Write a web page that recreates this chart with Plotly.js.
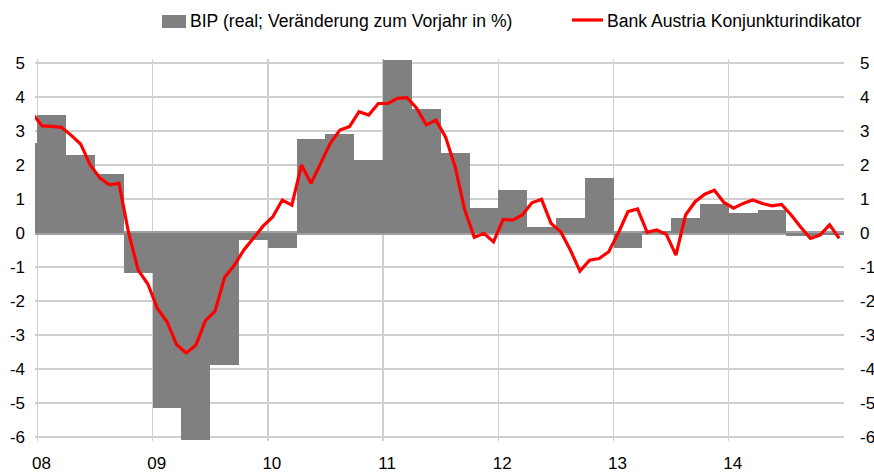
<!DOCTYPE html>
<html>
<head>
<meta charset="utf-8">
<script src="https://cdn.plot.ly/plotly-3.0.1.min.js"></script>
<style>html,body{margin:0;padding:0;background:#fff;}#chart{width:874px;height:475px;}</style>
</head>
<body>
<div id="chart"></div>
<script>
// Quarterly GDP (real, % change yoy), Q4 2007 .. Q4 2014
var bipQuarters = ['Q4 07',
  'Q1 08','Q2 08','Q3 08','Q4 08',
  'Q1 09','Q2 09','Q3 09','Q4 09',
  'Q1 10','Q2 10','Q3 10','Q4 10',
  'Q1 11','Q2 11','Q3 11','Q4 11',
  'Q1 12','Q2 12','Q3 12','Q4 12',
  'Q1 13','Q2 13','Q3 13','Q4 13',
  'Q1 14','Q2 14','Q3 14','Q4 14'];
var bipValues = [2.65,
  3.47, 2.29, 1.74, -1.17,
  -5.14, -6.08, -3.87, -0.20,
  -0.45, 2.76, 2.91, 2.15,
  5.09, 3.65, 2.34, 0.73,
  1.26, 0.17, 0.43, 1.63,
  -0.45, 0.05, 0.43, 0.85,
  0.58, 0.68, -0.10, -0.05];

// Monthly Bank Austria Konjunkturindikator, Dec 2007 .. Dec 2014
var indMonths = ['Dez 07',
  'Jan 08','Feb 08','Mär 08','Apr 08','Mai 08','Jun 08','Jul 08','Aug 08','Sep 08','Okt 08','Nov 08','Dez 08',
  'Jan 09','Feb 09','Mär 09','Apr 09','Mai 09','Jun 09','Jul 09','Aug 09','Sep 09','Okt 09','Nov 09','Dez 09',
  'Jan 10','Feb 10','Mär 10','Apr 10','Mai 10','Jun 10','Jul 10','Aug 10','Sep 10','Okt 10','Nov 10','Dez 10',
  'Jan 11','Feb 11','Mär 11','Apr 11','Mai 11','Jun 11','Jul 11','Aug 11','Sep 11','Okt 11','Nov 11','Dez 11',
  'Jan 12','Feb 12','Mär 12','Apr 12','Mai 12','Jun 12','Jul 12','Aug 12','Sep 12','Okt 12','Nov 12','Dez 12',
  'Jan 13','Feb 13','Mär 13','Apr 13','Mai 13','Jun 13','Jul 13','Aug 13','Sep 13','Okt 13','Nov 13','Dez 13',
  'Jan 14','Feb 14','Mär 14','Apr 14','Mai 14','Jun 14','Jul 14','Aug 14','Sep 14','Okt 14','Nov 14','Dez 14'];
var indValues = [3.50,
  3.15, 3.14, 3.11, 2.88, 2.62, 2.00, 1.62, 1.42, 1.46, 0.00, -1.09, -1.50,
  -2.22, -2.61, -3.29, -3.53, -3.30, -2.58, -2.30, -1.30, -0.95, -0.50, -0.16, 0.20,
  0.47, 0.97, 0.82, 2.00, 1.46, 2.05, 2.64, 3.03, 3.13, 3.57, 3.47, 3.81,
  3.81, 3.96, 3.98, 3.67, 3.18, 3.32, 2.83, 1.95, 0.68, -0.13, -0.01, -0.26,
  0.40, 0.38, 0.53, 0.89, 0.99, 0.28, 0.04, -0.50, -1.12, -0.80, -0.75, -0.55,
  0.00, 0.63, 0.71, 0.02, 0.09, -0.04, -0.65, 0.53, 0.92, 1.14, 1.26, 0.90,
  0.73, 0.87, 0.97, 0.87, 0.80, 0.84, 0.53, 0.17, -0.16, -0.06, 0.24, -0.16];

var yearLabels = ['08','09','10','11','12','13','14',''];
var yTicks = [5,4,3,2,1,0,-1,-2,-3,-4,-5,-6];

var legendBip = 'BIP (real; Veränderung zum Vorjahr in %)';
var legendInd = 'Bank Austria Konjunkturindikator';

// time axis in months from Jan 2008; quarters centred, months at mid-month
var bipX = bipQuarters.map(function(q, i){ return i * 3 - 1.5; });
var indX = indMonths.map(function(m, i){ return i - 0.5; });
var yearTickVals = yearLabels.map(function(l, i){ return i * 12; });

var W = 874, H = 475;
var M = {l: 35, r: 30, t: 59, b: 34};
var pw = W - M.l - M.r, ph = H - M.t - M.b;
function px(x){ return (x - M.l) / pw; }
function py(y){ return (H - M.b - y) / ph; }

var tickFont = {family: 'Liberation Sans, Arial, sans-serif', size: 17, color: '#000'};
var legFont = {family: 'Liberation Sans, Arial, sans-serif', size: 17.6, color: '#000'};

var traces = [
  {type: 'bar', x: bipX, y: bipValues, width: 3, name: legendBip, hovertext: bipQuarters,
   textposition: 'none',
   marker: {color: '#808080', line: {width: 0}}, showlegend: false, hoverinfo: 'text+y'},
  {type: 'scatter', mode: 'lines', x: indX, y: indValues, name: legendInd, hovertext: indMonths,
   line: {color: '#ff0000', width: 3.2}, showlegend: false, hoverinfo: 'text+y'},
  {type: 'scatter', mode: 'lines', x: [null], y: [null], yaxis: 'y2', showlegend: false, hoverinfo: 'skip'}
];

var layout = {
  width: W, height: H,
  margin: M,
  paper_bgcolor: '#fff', plot_bgcolor: '#fff',
  showlegend: false,
  bargap: 0,
  xaxis: {
    range: [-0.25, 84], tickmode: 'array', tickvals: yearTickVals, ticktext: yearLabels,
    showgrid: true, gridcolor: '#cfcfcf', gridwidth: 1.3, zeroline: false, showline: false,
    ticks: '', tickfont: tickFont, ticklabelshift: 4, ticklabelstandoff: 10, fixedrange: true
  },
  yaxis: {
    range: [-6.12, 5.12], tickmode: 'array', tickvals: yTicks, ticktext: yTicks.map(String),
    showgrid: true, gridcolor: '#cfcfcf', gridwidth: 1.3,
    zeroline: true, zerolinecolor: '#a0a0a0', zerolinewidth: 3.5,
    showline: false, ticks: '', tickfont: tickFont, ticklabelstandoff: 9, fixedrange: true
  },
  yaxis2: {
    range: [-6.12, 5.12], overlaying: 'y', side: 'right', tickmode: 'array', tickvals: yTicks,
    ticktext: yTicks.map(String), showgrid: false, zeroline: false, showline: false, ticks: '',
    tickfont: tickFont, ticklabelstandoff: 15, fixedrange: true
  },
  shapes: [
    {type: 'rect', xref: 'paper', yref: 'paper', x0: px(162), x1: px(186), y0: py(28), y1: py(15),
     fillcolor: '#808080', line: {width: 0}},
    {type: 'line', xref: 'paper', yref: 'paper', x0: px(572), x1: px(603), y0: py(20), y1: py(20),
     line: {color: '#ff0000', width: 3.2}}
  ],
  annotations: [
    {xref: 'paper', yref: 'paper', x: px(188), y: py(21), xanchor: 'left', yanchor: 'middle',
     text: legendBip, showarrow: false, font: legFont},
    {xref: 'paper', yref: 'paper', x: px(605), y: py(21), xanchor: 'left', yanchor: 'middle',
     text: legendInd, showarrow: false, font: legFont}
  ]
};

Plotly.newPlot('chart', traces, layout, {displayModeBar: false, staticPlot: true});
</script>
</body>
</html>
